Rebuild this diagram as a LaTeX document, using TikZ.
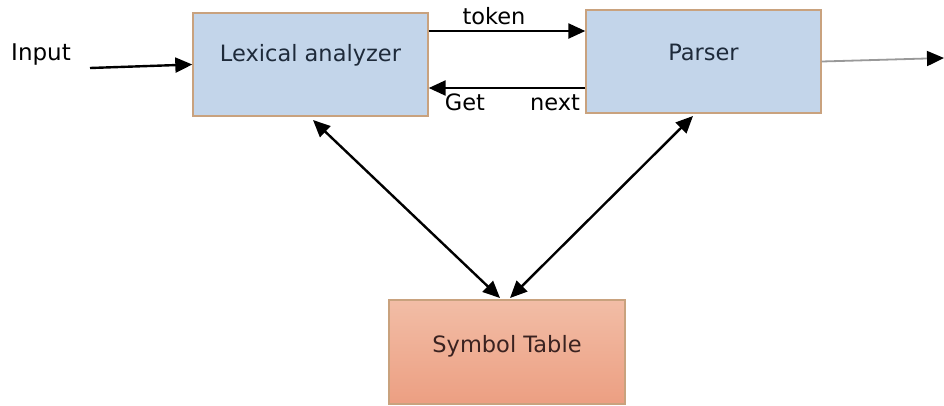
\documentclass[tikz,border=0pt]{standalone}
\usepackage{fontspec}
\setmainfont{DejaVu Sans}
\usetikzlibrary{arrows.meta}
\definecolor{boxblue}{HTML}{C3D5EA}
\definecolor{boxedge}{HTML}{C9A27E}
\definecolor{symtop}{HTML}{F2BDA6}
\definecolor{symbot}{HTML}{EC9F82}
\definecolor{txtnavy}{HTML}{1E2A3A}
\definecolor{txtbrown}{HTML}{3A2220}
\begin{document}
\begin{tikzpicture}[x=1pt,y=-1pt,
  font=\fontsize{22.5}{26}\selectfont,
  blk/.style={draw=boxedge, line width=1.4pt, fill=boxblue, text=txtnavy,
    minimum width=235pt, minimum height=103pt, inner sep=0pt, text height=16pt},
  lbl/.style={inner sep=0pt, anchor=base, text=black},
  arr/.style={line width=2.4pt, -{Triangle[length=17pt,width=15pt]}},
  darr/.style={line width=2.4pt, {Triangle[length=17pt,width=15pt]}-{Triangle[length=17pt,width=15pt]}}
]
\useasboundingbox (0,0) rectangle (944,405);
\fill[white] (0,0) rectangle (944,405);

\node[blk, text depth=22pt] (lex) at (310.5,64.5) {Lexical analyzer};
\node[blk, text depth=19pt] (parser) at (703.5,61.5) {Parser};
\node[draw=boxedge, line width=1.4pt, top color=symtop, bottom color=symbot,
  text=txtbrown, minimum width=236pt, minimum height=104pt, inner sep=0pt,
  text height=16pt, text depth=16pt] (sym) at (507,352) {Symbol Table};

\node[lbl, font=\fontsize{23}{27}\selectfont] (input) at (41,60) {Input};
\node[lbl] (token) at (494,24) {token};
\node[lbl] (get) at (465,110) {Get};
\node[lbl] (next) at (555,110) {next};

\coordinate (instart) at (90,68);
\coordinate (outend) at (944,58);

\draw[arr] (instart) -- (lex.west);
\draw[arr] (lex.east |- 0,31) -- (parser.west |- 0,31);
\draw[arr] (parser.west |- 0,88) -- (lex.east |- 0,88);
\draw[line width=1.8pt, draw=gray!80, -{Triangle[length=17pt,width=15pt,fill=black,color=black]}] (parser.east) -- (outend);

\coordinate (lexb) at (313,120);
\coordinate (parb) at (693,116);
\coordinate (syml) at (500,298);
\coordinate (symr) at (510,298);
\draw[darr] (lexb) -- (syml);
\draw[darr] (parb) -- (symr);
\end{tikzpicture}
\end{document}
